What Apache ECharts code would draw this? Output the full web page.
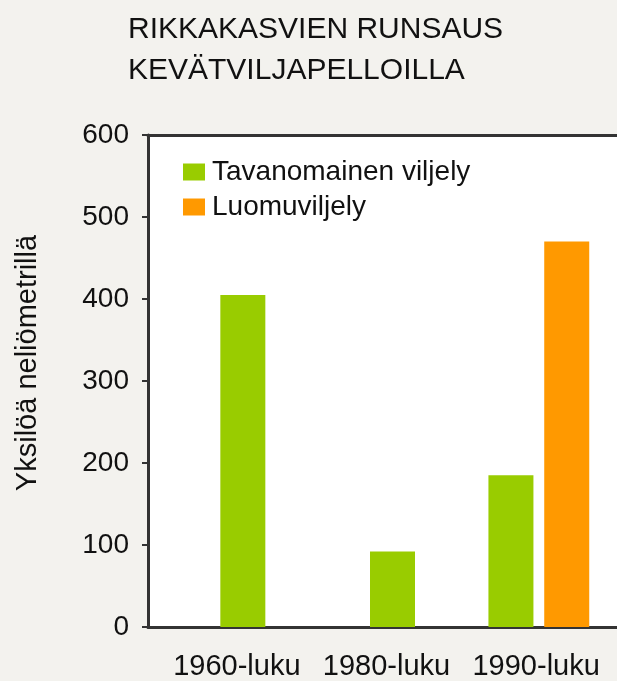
<!DOCTYPE html>
<html>
<head>
<meta charset="utf-8">
<script src="https://cdn.jsdelivr.net/npm/echarts@6/dist/echarts.min.js"></script>
<style>
    html, body {margin: 0; padding: 0; background: #f3f2ee;}
    #chart {width: 617px; height: 681px;}
</style>
</head>
<body>
<div id="chart"></div>
<script>
var categories = ['1960-luku', '1980-luku', '1990-luku'];
var tavanomainen = [405, 92, 185];
var luomu = [null, null, 470];
var yTicks = [0, 100, 200, 300, 400, 500, 600];

var font = '"Liberation Sans", Arial, sans-serif';
var green = '#99cc00';
var orange = '#ff9900';

// vuosikymmenet joilla vain yksi pylväs keskitetään omaan ruutuunsa
function singleData() {
    var arr = [];
    for (var i = 0; i < tavanomainen.length; i++) {
        arr.push(luomu[i] == null ? tavanomainen[i] : '-');
    }
    return arr;
}

function pairData(list) {
    var arr = [];
    for (var i = 0; i < list.length; i++) {
        arr.push(luomu[i] == null ? '-' : list[i]);
    }
    return arr;
}

var myChart = echarts.init(document.getElementById('chart'));
var option = {
    backgroundColor: '#f3f2ee',
    animation: false,
    title: {
        text: 'RIKKAKASVIEN RUNSAUS\nKEVÄTVILJAPELLOILLA',
        left: 123,
        top: 4,
        textStyle: {
            fontFamily: font,
            fontSize: 30,
            fontWeight: 'normal',
            lineHeight: 41,
            color: '#111'
        }
    },
    legend: {
        data: ['Tavanomainen viljely', 'Luomuviljely'],
        orient: 'vertical',
        left: 178,
        top: 153,
        icon: 'rect',
        itemWidth: 22,
        itemHeight: 17,
        itemGap: 7,
        textStyle: {
            fontFamily: font,
            fontSize: 28,
            color: '#111',
            padding: [0, 0, 6, 2]
        }
    },
    grid: [
        {left: 148, right: 0, top: 135, bottom: 54, show: true, backgroundColor: '#fff', borderWidth: 0},
        {left: 168, right: 0, top: 135, bottom: 54}
    ],
    xAxis: [
        {
            type: 'category',
            gridIndex: 0,
            data: categories,
            axisLine: {lineStyle: {color: '#333', width: 3}},
            axisTick: {show: false},
            axisLabel: {show: false}
        },
        {
            type: 'category',
            gridIndex: 1,
            data: categories,
            axisLine: {show: false},
            axisTick: {show: false},
            axisLabel: {
                interval: 0,
                margin: 25,
                fontFamily: font,
                fontSize: 29,
                color: '#111',
                padding: [0, 12, 0, 0]
            }
        },
        {
            type: 'category',
            gridIndex: 0,
            position: 'top',
            data: categories,
            axisLine: {lineStyle: {color: '#333', width: 3}},
            axisTick: {show: false},
            axisLabel: {show: false}
        }
    ],
    yAxis: [
        {
            type: 'value',
            gridIndex: 0,
            min: yTicks[0],
            max: yTicks[yTicks.length - 1],
            interval: 100,
            name: 'Yksilöä neliömetrillä',
            nameLocation: 'middle',
            nameGap: 106,
            nameTextStyle: {
                fontFamily: font,
                fontSize: 29,
                color: '#111',
                padding: [0, 0, 0, 36]
            },
            axisLine: {show: true, lineStyle: {color: '#333', width: 3}},
            axisTick: {show: true, length: 6, lineStyle: {color: '#333', width: 2}},
            axisLabel: {
                margin: 19,
                fontFamily: font,
                fontSize: 28,
                color: '#111'
            },
            splitLine: {show: false}
        },
        {
            type: 'value',
            gridIndex: 1,
            min: yTicks[0],
            max: yTicks[yTicks.length - 1],
            interval: 100,
            axisLine: {show: false},
            axisTick: {show: false},
            axisLabel: {show: false},
            splitLine: {show: false}
        }
    ],
    series: [
        {
            name: 'Tavanomainen viljely',
            type: 'bar',
            xAxisIndex: 1,
            yAxisIndex: 1,
            barWidth: 45,
            itemStyle: {color: green},
            data: singleData()
        },
        {
            name: 'Tavanomainen viljely',
            type: 'bar',
            xAxisIndex: 0,
            yAxisIndex: 0,
            barWidth: 45,
            barGap: '24%',
            itemStyle: {color: green},
            data: pairData(tavanomainen)
        },
        {
            name: 'Luomuviljely',
            type: 'bar',
            xAxisIndex: 0,
            yAxisIndex: 0,
            barWidth: 45,
            barGap: '24%',
            itemStyle: {color: orange},
            data: pairData(luomu)
        }
    ]
};
myChart.setOption(option);
</script>
</body>
</html>
